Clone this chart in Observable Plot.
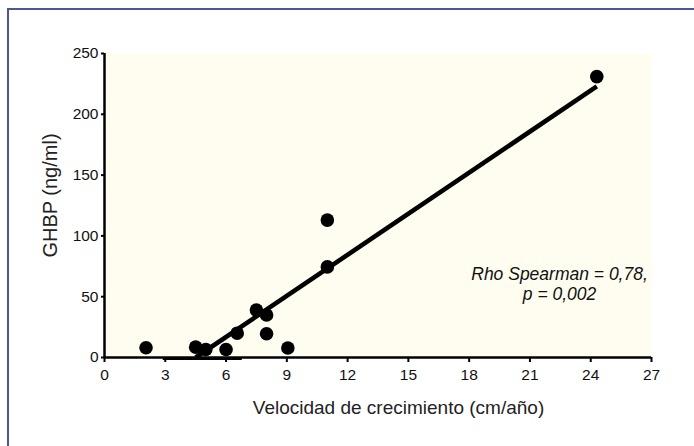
<!DOCTYPE html>
<html><head><meta charset="utf-8">
<script src="https://cdn.jsdelivr.net/npm/d3@7"></script>
<script src="https://cdn.jsdelivr.net/npm/@observablehq/plot@0.6"></script>
<style>
body{margin:0;background:#fff;}
#wrap{position:relative;width:694px;height:446px;overflow:hidden;background:#fff;}
#frame{position:absolute;left:7px;top:8px;width:720px;height:460px;border-top:2px solid #4b5893;border-left:2px solid #4b5893;}
#chart{position:absolute;left:0;top:0;}
</style></head><body>
<div id="wrap"><div id="frame"></div><div id="chart"></div></div>
<script>
// Data
const velocidad = [2.05, 4.5, 5.0, 6.0, 6.55, 7.5, 8.0, 8.0, 9.05, 11.0, 11.0, 24.3];
const ghbp      = [8, 8.5, 6.6, 6.6, 20, 39, 35, 19.5, 7.8, 113, 74.5, 231];
const fitX = [4.5, 24.3];
const fitY = [0, 223];
const baseSegment = [2.9, 6.8];
const xTicks = [0, 3, 6, 9, 12, 15, 18, 21, 24, 27];
const yTicks = [0, 50, 100, 150, 200, 250];
const xTitle = "Velocidad de crecimiento (cm/año)";
const yTitle = "GHBP (ng/ml)";
const annotation = "Rho Spearman = 0,78,\np = 0,002";
const annotationX = [22.46];
const annotationY = [60.5];

const points = velocidad.map((v, i) => ({x: v, y: ghbp[i]}));
const fit = fitX.map((v, i) => ({x: v, y: fitY[i]}));

const font = "'Liberation Sans', Arial, Helvetica, sans-serif";
const plot = Plot.plot({
  width: 694, height: 446,
  marginLeft: 104, marginRight: 43, marginTop: 53, marginBottom: 89,
  style: {fontFamily: font, background: "transparent", overflow: "visible", color: "#000"},
  x: {domain: [0, 27]},
  y: {domain: [0, 250]},
  marks: [
    Plot.frame({fill: "#fffdf0", stroke: null}),
    Plot.axisY({ticks: yTicks, tickSize: 3, tickPadding: 3, strokeWidth: 2, fontSize: 15.5, label: null, fill: "#111"}),
    Plot.axisX({ticks: xTicks, tickSize: 5, tickPadding: 6, strokeWidth: 2, fontSize: 15.5, label: null, fill: "#111"}),
    Plot.ruleX([0], {strokeWidth: 2.5}),
    Plot.ruleY([0], {strokeWidth: 2.5}),
    Plot.ruleY([0], {x1: baseSegment[0], x2: baseSegment[1], strokeWidth: 3, dy: 1}),
    Plot.line(fit, {x: "x", y: "y", strokeWidth: 4.6, strokeLinecap: "butt"}),
    Plot.dot(points, {x: "x", y: "y", r: 6.8, fill: "#000", stroke: null}),
    Plot.text([annotation], {x: annotationX, y: annotationY, fontStyle: "italic", fontSize: 17.5, lineHeight: 1.14, textAnchor: "middle", lineAnchor: "middle", fill: "#111"}),
    Plot.text([xTitle], {frameAnchor: "bottom", textAnchor: "middle", dx: 20.5, dy: 56, lineAnchor: "bottom", fontSize: 19, fill: "#222"}),
    Plot.text([yTitle], {frameAnchor: "left", textAnchor: "middle", rotate: -90, dx: -54, dy: -10, lineAnchor: "middle", fontSize: 20, fill: "#222"})
  ]
});
document.getElementById("chart").appendChild(plot);
</script>
</body></html>
